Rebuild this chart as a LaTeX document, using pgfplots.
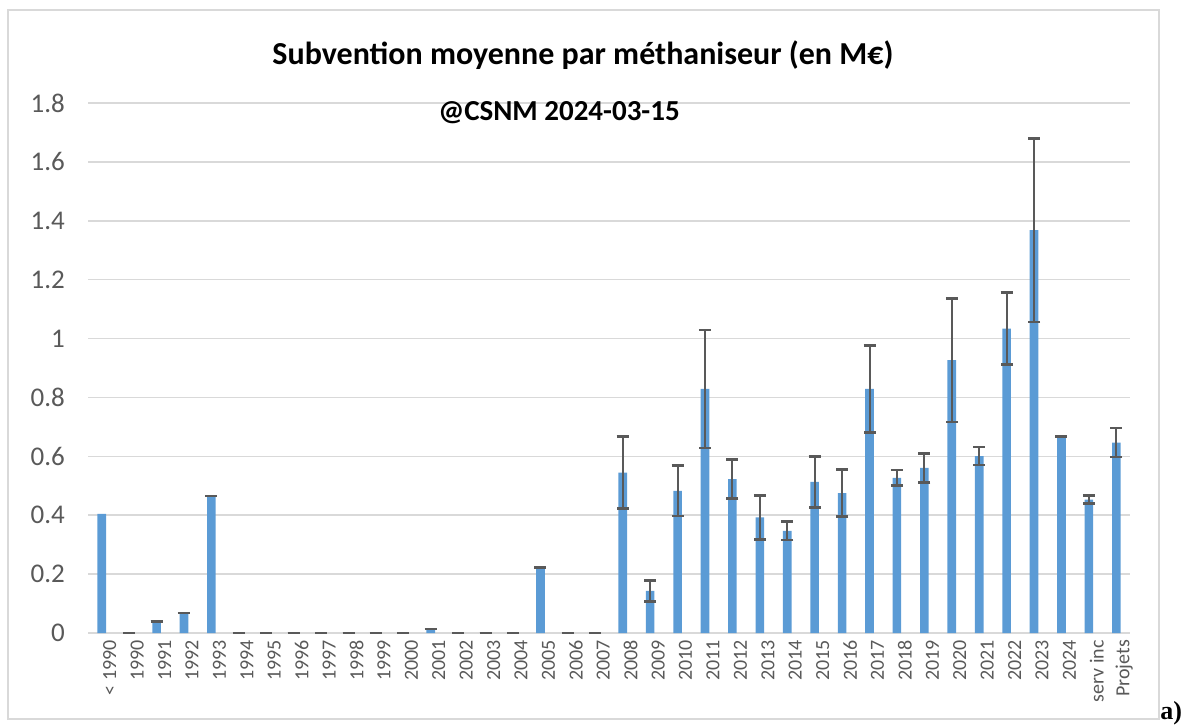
\documentclass[border=0pt]{standalone}
\usepackage{fontspec}
\setmainfont{Carlito}
\usepackage{pgfplots}
\usepackage{pgfplotstable}
\pgfplotsset{compat=1.18}
\newfontfamily\timesfont{Liberation Serif}

\definecolor{barblue}{HTML}{5B9BD5}
\definecolor{errgray}{HTML}{595959}
\definecolor{gridgray}{HTML}{D9D9D9}

% x = category index, y = mean subsidy (MEUR)
\pgfplotstableread{
x y
0 0.405
1 0
2 0.039
3 0.068
4 0.466
5 0
6 0
7 0
8 0
9 0
10 0
11 0
12 0.013
13 0
14 0
15 0
16 0.222
17 0
18 0
19 0.545
20 0.143
21 0.483
22 0.829
23 0.523
24 0.393
25 0.347
26 0.513
27 0.475
28 0.829
29 0.527
30 0.561
31 0.927
32 0.601
33 1.034
34 1.368
35 0.668
36 0.453
37 0.647
}\bars

% error bars (no cap on the first bar)
\pgfplotstableread{
x y e
1 0 0
2 0.039 0
3 0.068 0
4 0.466 0
5 0 0
6 0 0
7 0 0
8 0 0
9 0 0
10 0 0
11 0 0
12 0.013 0
13 0 0
14 0 0
15 0 0
16 0.222 0
17 0 0
18 0 0
19 0.545 0.122
20 0.143 0.036
21 0.483 0.085
22 0.829 0.200
23 0.523 0.066
24 0.393 0.075
25 0.347 0.031
26 0.513 0.086
27 0.475 0.080
28 0.829 0.148
29 0.527 0.027
30 0.561 0.049
31 0.927 0.210
32 0.601 0.031
33 1.034 0.122
34 1.368 0.312
35 0.668 0
36 0.453 0.014
37 0.647 0.049
}\errs

\begin{document}
\begin{tikzpicture}
\useasboundingbox (0,0) rectangle (593pt,362.5pt);
\draw[gridgray, line width=0.75pt] (4pt,3pt) rectangle (579.5pt,357.5pt);

\begin{axis}[
    at={(44pt,46pt)}, anchor=south west,
    scale only axis,
    width=521pt, height=265pt,
    xmin=-0.5, xmax=37.5,
    ymin=0, ymax=1.8,
    xtick={0,...,37},
    xticklabels={< 1990,1990,1991,1992,1993,1994,1995,1996,1997,1998,1999,2000,2001,2002,2003,2004,2005,2006,2007,2008,2009,2010,2011,2012,2013,2014,2015,2016,2017,2018,2019,2020,2021,2022,2023,2024,serv inc,Projets},
    ytick={0,0.2,...,1.8},
    axis x line*=bottom,
    axis y line*=left,
    y axis line style={draw=none},
    x axis line style={gridgray, line width=0.75pt, -},
    major tick length=0pt,
    ymajorgrids,
    grid style={gridgray, line width=0.75pt},
    /pgf/number format/assume math mode=true,
    yticklabel style={font=\fontsize{13.5}{14}\selectfont, text=errgray, xshift=-8pt},
    xticklabel style={font=\fontsize{10}{11}\selectfont, text=errgray, rotate=90, anchor=east, yshift=-4pt},
    clip=false,
]
\addplot[ybar, bar width=4.3pt, fill=barblue, draw=none] table[x=x, y=y] {\bars};
\addplot[draw=none, mark=none,
    error bars/.cd, y dir=both, y explicit,
    error bar style={errgray, line width=1pt},
    error mark options={errgray, line width=1.3pt, mark size=3pt, rotate=90}]
    table[x=x, y=y, y error=e] {\errs};
\end{axis}

\node[font=\bfseries\fontsize{16}{18}\selectfont] at (291.5pt,335pt) {Subvention moyenne par méthaniseur (en M€)};
\node[font=\bfseries\fontsize{14.5}{16}\selectfont] at (279.5pt,306pt) {@CSNM 2024-03-15};
\node[anchor=base west, inner sep=0pt, font=\timesfont\bfseries\fontsize{13}{14}\selectfont] at (580pt,3pt) {a)};
\end{tikzpicture}
\end{document}
